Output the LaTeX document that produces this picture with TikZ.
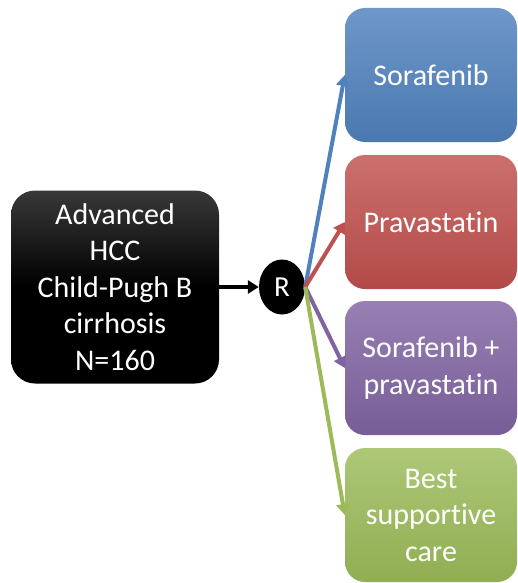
\documentclass[tikz,border=0pt]{standalone}
\usepackage{fontspec}
\setmainfont{Carlito}[Ligatures=NoCommon]
\usetikzlibrary{arrows.meta,shapes.geometric}

\definecolor{armblue}{HTML}{4F81BD}
\definecolor{armred}{HTML}{C0504D}
\definecolor{armpurple}{HTML}{8064A2}
\definecolor{armgreen}{HTML}{9BBB59}

\tikzset{
  armbox/.style={rounded corners=20pt, minimum width=172pt, minimum height=134pt,
    inner sep=0pt, text=white, align=center, font=\fontsize{30}{36.5}\selectfont,
    top color=#1!82!white, bottom color=#1!93!black},
  link/.style={line width=4pt, -{Triangle[length=11pt,width=13pt]}}
}

\def\armx{431}

\begin{document}
\begin{tikzpicture}[x=1pt,y=-1pt]
    \useasboundingbox (0,0) rectangle (518,583);

    \node[rounded corners=24pt, minimum width=208pt, minimum height=193pt, inner sep=0pt,
      top color=black!78, bottom color=black, middle color=black, text=white, align=center,
      font=\fontsize{30}{36.5}\selectfont] (pop) at (115,287)
      {Advanced\\HCC\\Child-Pugh B\\cirrhosis\\N=160};

    \node[ellipse, fill=black, minimum width=46pt, minimum height=55pt, inner sep=0pt,
      text=white, font=\fontsize{29}{30}\selectfont] (R) at (282,287) {R};

    \node[armbox=armblue] (sora) at (\armx,75) {Sorafenib};
    \node[armbox=armred] (prava) at (\armx,222) {Pravastatin};
    \node[armbox=armpurple] (combo) at (\armx,368) {Sorafenib +\\pravastatin};
    \node[armbox=armgreen] (bsc) at (\armx,515) {Best\\supportive\\care};

    \draw[link, black, line width=4.5pt] (pop.east) -- (R.west);
    \draw[link, armblue] (R.east) -- (sora.west);
    \draw[link, armred] (R.east) -- (prava.west);
    \draw[link, armpurple] (R.east) -- (combo.west);
    \draw[link, armgreen] (R.east) -- (bsc.west);
\end{tikzpicture}
\end{document}
